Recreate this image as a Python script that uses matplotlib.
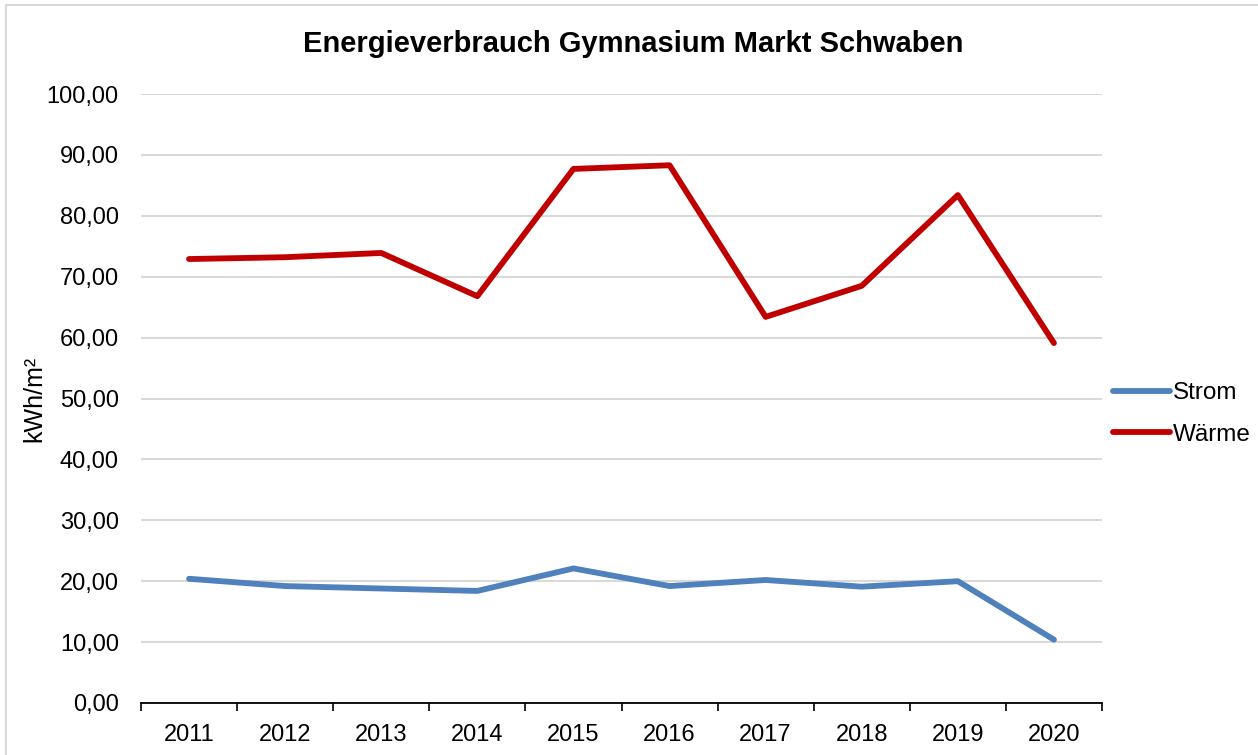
import numpy as np
import matplotlib.pyplot as plt
from matplotlib.patches import Rectangle

plt.rcParams['font.family'] = ['Liberation Sans', 'DejaVu Sans']

jahre = ['2011', '2012', '2013', '2014', '2015', '2016', '2017', '2018', '2019', '2020']
strom = [20.4, 19.2, 18.8, 18.4, 22.1, 19.2, 20.2, 19.1, 20.0, 10.4]
waerme = [72.9, 73.2, 73.9, 66.8, 87.7, 88.3, 63.4, 68.5, 83.4, 59.1]
y_ticks = np.arange(0, 101, 10)

W, H = 1258, 755
fig = plt.figure(figsize=(W / 100, H / 100), dpi=100)
ax = fig.add_axes([141 / W, 1 - 703 / H, (1102 - 141) / W, (703 - 94) / H])

# chart border like the spreadsheet frame
fig.patches.append(Rectangle((6 / W, -0.1), 1.2, 1 - 5 / H + 0.1, transform=fig.transFigure,
                             fill=False, edgecolor='#d9d9d9', linewidth=1.5))

x = np.arange(len(jahre))
ax.plot(x, strom, color='#4f81bd', linewidth=4.2, solid_capstyle='round', label='Strom')
ax.plot(x, waerme, color='#c00000', linewidth=4.2, solid_capstyle='round', label='Wärme')

ax.set_xlim(-0.5, len(jahre) - 0.5)
ax.set_ylim(0, 100)
ax.set_yticks(y_ticks)
ax.set_yticklabels([f'{v:.2f}'.replace('.', ',') for v in y_ticks], fontsize=17)
ax.set_xticks(x)
ax.set_xticklabels(jahre, fontsize=17)
ax.set_xticks(np.arange(-0.5, len(jahre)), minor=True)
ax.tick_params(axis='x', which='major', length=0, pad=15)
ax.tick_params(axis='x', which='minor', length=6, width=1.2, color='black', direction='out')
ax.tick_params(axis='y', length=0, pad=16)

ax.grid(axis='y', color='#d9d9d9', linewidth=1.5)
ax.set_axisbelow(True)
for s in ['left', 'right', 'top']:
    ax.spines[s].set_visible(False)
ax.spines['bottom'].set_linewidth(1.3)

ax.set_ylabel('kWh/m²', fontsize=18, labelpad=0)
fig.text(633 / W, 1 - 44 / H, 'Energieverbrauch Gymnasium Markt Schwaben',
         ha='center', va='center', fontsize=21, fontweight='bold')

fig.legend(loc='center left', bbox_to_anchor=(1113 / W, 1 - 414 / H), frameon=False,
           fontsize=17.5, handlelength=2.35, handletextpad=0.12, labelspacing=0.82,
           borderaxespad=0, borderpad=0)

fig.savefig('out.png', dpi=100)
